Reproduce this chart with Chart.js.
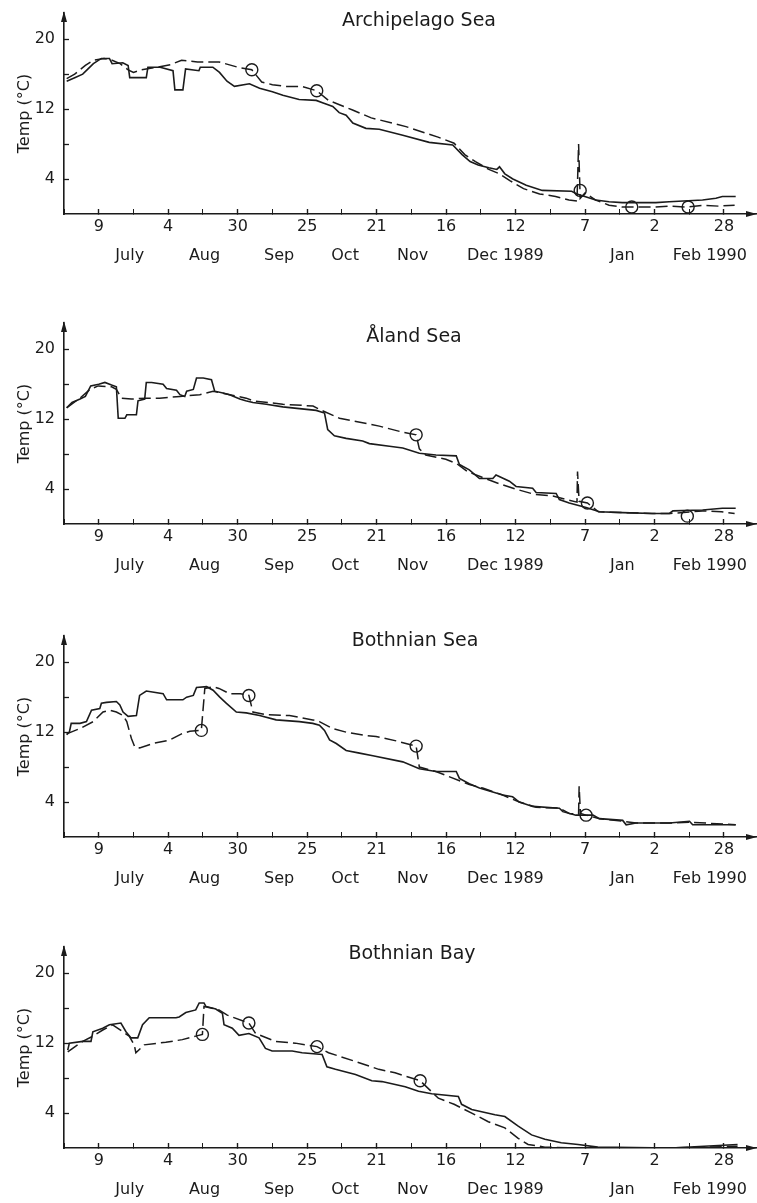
<!DOCTYPE html>
<html>
<head>
<meta charset="utf-8">
<script src="https://cdn.jsdelivr.net/npm/chart.js@4"></script>
<style>
  html, body { margin: 0; padding: 0; background: #ffffff; }
  #wrap { position: relative; width: 757px; height: 1203px; overflow: hidden; background: #ffffff; }
  canvas { position: absolute; left: 0; }
</style>
</head>
<body>
<div id="wrap">
  <canvas id="c0" width="757" height="268" style="top:0px"></canvas>
  <canvas id="c1" width="757" height="268" style="top:310px"></canvas>
  <canvas id="c2" width="757" height="268" style="top:623px"></canvas>
  <canvas id="c3" width="757" height="268" style="top:934px"></canvas>
</div>
<script>
// ---------------- DATA ----------------
// x = days after 9 July 1989, y = temperature (°C)
const panelTitles = ['Archipelago Sea', 'Åland Sea', 'Bothnian Sea', 'Bothnian Bay'];

const majorTickDays = [0, 26, 52, 78, 104, 130, 156, 182, 208, 234];
const tickLabels = ['9', '4', '30', '25', '21', '16', '12', '7', '2', '28'];
const monthDays = [11.6, 39.6, 67.5, 92.2, 117.5, 152.2, 196, 228.7];
const monthLabels = ['July', 'Aug', 'Sep', 'Oct', 'Nov', 'Dec 1989', 'Jan', 'Feb 1990'];
const yTickValues = [4, 8, 12, 16, 20];
const yTickLabels = ['4', '', '12', '', '20'];

const archSolid = [[-12,15.2],[-9,15.6],[-6,16.0],[-4,16.6],[-2,17.2],[1,17.8],[4,17.8],[5,17.2],[9,17.3],[11,17.0],[11.6,15.6],[17.8,15.6],[18.4,16.8],[23,16.8],[27.8,16.4],[28.5,14.2],[31.5,14.2],[32.5,16.6],[37.5,16.4],[38,16.8],[42.7,16.8],[45.2,16.2],[48,15.2],[50.8,14.6],[56.4,14.9],[60.2,14.4],[65,14.0],[68.9,13.6],[75,13.1],[81.4,13.0],[84,12.7],[87.6,12.3],[90,11.6],[92.6,11.3],[95.1,10.4],[100,9.8],[105,9.7],[113.8,9.0],[123.7,8.2],[132.5,7.9],[136,6.8],[139,6.0],[142,5.6],[146,5.3],[149,5.1],[150,5.4],[152,4.6],[155,4.0],[160,3.3],[166,2.7],[177,2.6],[179,2.3],[186,1.6],[191,1.4],[196,1.3],[208.5,1.3],[213.5,1.4],[226,1.6],[231,1.8],[233.4,2.0],[238.4,2.0]];
const archDashed = [[-12,15.5],[-9,16.0],[-5,17.0],[-2,17.6],[2,17.8],[5,17.6],[8,17.2],[11,16.5],[13,16.2],[16,16.5],[22,16.8],[27,17.1],[31,17.6],[37,17.4],[45,17.4],[52,16.8],[57.3,16.5],[61,15.1],[65,14.8],[70,14.6],[76,14.6],[81.6,14.1],[86,13.0],[95,11.9],[102,11.0],[115,10.0],[127,8.8],[133,8.1],[137,6.8],[141,6.0],[146,5.1],[150,4.6],[154,3.8],[159,2.9],[165,2.3],[171,2.0],[176,1.6],[179,1.5],[179.6,8.0],[180.2,1.8],[182,2.4],[186,1.6],[191,1.0],[196,0.8],[208,0.8],[214,0.9],[220,0.8],[226,1.0],[232,0.9],[238,1.0]];
const archObs = [[57.3,16.5],[81.6,14.1],[180.2,2.7],[199.5,0.8],[220.6,0.8]];

const alandSolid = [[-12,13.3],[-10,13.9],[-7,14.3],[-5,14.6],[-3,15.8],[0,16.0],[2.3,16.2],[4.8,15.9],[6.6,15.7],[7.3,12.1],[9.8,12.1],[10.5,12.5],[14.1,12.5],[14.7,14.1],[17.2,14.3],[17.8,16.2],[19.8,16.2],[24.1,16.0],[25.4,15.5],[29.1,15.3],[30.4,14.8],[32.2,14.6],[32.9,15.2],[35.4,15.4],[36.6,16.7],[39.1,16.7],[42.2,16.5],[43.4,15.2],[46.5,15.0],[49,14.8],[52.8,14.3],[55,14.1],[57.7,13.9],[62.7,13.7],[68.9,13.4],[75.1,13.2],[81.4,13.0],[84.5,12.7],[85.7,10.8],[88.2,10.1],[92.6,9.8],[98.8,9.5],[101.3,9.2],[108.8,8.9],[113.8,8.7],[120,8.1],[126.2,7.9],[133.8,7.8],[135,6.8],[138.7,6.2],[142.5,5.2],[147.5,5.2],[148.7,5.6],[153.7,4.9],[156.2,4.3],[162.4,4.1],[163.7,3.6],[171.2,3.5],[172.4,2.8],[176.1,2.4],[182.4,1.9],[187.4,1.4],[196.1,1.3],[207.4,1.2],[213.6,1.2],[214.9,1.5],[226,1.6],[233.4,1.8],[238.4,1.8]];
const alandDashed = [[-12,13.3],[-7,14.4],[-3.3,15.4],[-0.2,15.8],[4.8,15.7],[6.6,15.4],[8.5,14.4],[12.2,14.3],[17.8,14.4],[22.8,14.4],[30.4,14.6],[37.8,14.8],[42.8,15.2],[49,14.8],[55.2,14.4],[57.7,14.1],[68.9,13.7],[80.2,13.5],[82.7,13.1],[90.1,12.1],[95.1,11.8],[102,11.4],[105,11.2],[113.8,10.5],[118.8,10.2],[120,8.6],[122.4,7.9],[129.9,7.4],[134,6.9],[138,6.0],[143,5.4],[150,4.6],[156,4.0],[163,3.4],[170,3.2],[175,2.8],[179,2.5],[179.2,6.0],[179.8,2.6],[182.9,2.4],[187,1.4],[196,1.3],[207,1.2],[214,1.2],[226,1.5],[233,1.4],[238,1.2]];
const alandObs = [[118.8,10.2],[182.9,2.4],[220.3,0.9]];

const bothSeaSolid = [[-12,11.7],[-11,12.0],[-10.3,13.0],[-7,13.0],[-4.6,13.2],[-2.7,14.5],[0.4,14.7],[1,15.3],[2.9,15.4],[6.6,15.5],[7.9,15.1],[9.1,14.3],[11,13.8],[14.1,13.9],[15.3,16.2],[17.8,16.7],[24.1,16.4],[25.4,15.7],[31.5,15.7],[32.9,16.0],[35.4,16.2],[36.6,17.1],[40.4,17.2],[42.8,16.8],[45.3,16.0],[47.8,15.3],[51.5,14.3],[55.2,14.2],[60.2,13.9],[66.4,13.4],[75.1,13.2],[80.1,13.0],[82.6,12.8],[84.5,12.2],[86.4,11.1],[88.9,10.7],[92.6,9.9],[97.6,9.6],[102.6,9.3],[113.8,8.6],[120,7.8],[126.2,7.5],[133.8,7.5],[135,6.7],[138.7,6.1],[142.5,5.6],[151.2,4.8],[154.9,4.6],[157.4,4.0],[162.4,3.5],[172.4,3.3],[173.7,2.9],[178.6,2.5],[185,2.5],[187.4,2.1],[196.1,1.9],[197.4,1.4],[201.1,1.6],[213.6,1.6],[221.1,1.8],[222.3,1.4],[238.4,1.4]];
const bothSeaDashed = [[-12,11.8],[-7.1,12.4],[-2.1,13.2],[1.6,14.3],[4.1,14.5],[6.6,14.3],[9.1,13.9],[10.5,13.2],[12.2,11.3],[13.5,10.3],[15.3,10.2],[20.3,10.7],[26.6,11.1],[31,11.8],[34.1,12.1],[38.4,12.2],[39.7,17.0],[42.8,17.2],[45,17.0],[49,16.4],[53,16.4],[56.2,16.2],[57.7,14.3],[62.7,14.0],[71.4,13.9],[80.1,13.4],[82.6,13.2],[87.6,12.4],[92.6,12.0],[100.1,11.6],[103.8,11.5],[111.3,11.0],[118.8,10.4],[120,8.0],[126.2,7.5],[138.7,6.0],[143.7,5.6],[151.2,4.8],[157.4,4.0],[163.7,3.4],[172.4,3.3],[176.1,2.7],[179.6,2.6],[179.8,5.8],[180.3,2.7],[182.4,2.5],[187.4,2.1],[196.1,1.8],[201.1,1.6],[213.6,1.6],[221,1.7],[238.4,1.4]];
const bothSeaObs = [[38.4,12.2],[56.2,16.2],[118.8,10.4],[182.4,2.5]];

const bothBaySolid = [[-11.6,11.2],[-11,12.0],[-6,12.2],[-2.9,12.2],[-2.2,13.3],[1.5,13.7],[4,14.1],[8.3,14.3],[10.2,13.3],[12.1,12.6],[14.6,12.6],[16.4,14.1],[18.9,14.9],[28.9,14.9],[30.1,15.0],[32.6,15.5],[36.3,15.8],[37.6,16.6],[39.4,16.6],[40.1,16.2],[43.8,15.9],[46.3,15.4],[46.9,14.1],[50,13.7],[52.5,12.9],[56.2,13.1],[60,12.6],[62.4,11.4],[64.9,11.1],[72.4,11.1],[76.1,10.9],[83.6,10.7],[85.4,9.3],[88.6,9.0],[96.1,8.4],[102.2,7.7],[106,7.6],[114.7,7.0],[119.7,6.5],[124.6,6.2],[134.6,5.9],[135.8,5.0],[139.6,4.4],[148.3,3.8],[152,3.6],[157,2.5],[162,1.5],[167,1.0],[173.1,0.6],[179.4,0.4],[186.8,0.1],[214.2,0.0],[226.6,0.2],[239.1,0.4]];
const bothBayDashed = [[-11.6,11.0],[-6,12.2],[-2.2,12.8],[1.5,13.5],[5.2,14.1],[9,13.3],[11.4,12.8],[13.3,11.8],[13.9,10.9],[17,11.8],[25.1,12.1],[31.3,12.4],[36.3,12.8],[38.8,13.0],[39.4,16.2],[45,15.8],[48.1,15.2],[56.2,14.3],[58.7,13.1],[66.2,12.2],[73.6,12.0],[81.7,11.6],[86,10.9],[96.1,9.9],[104.8,9.0],[110.9,8.6],[120.3,7.7],[127.1,5.7],[133,5.0],[139.6,4.0],[145.8,3.0],[152,2.3],[157,1.1],[160.7,0.4],[167,0.1],[180,0.0],[214,0.0],[226.6,0.1],[239.1,0.2]];
const bothBayObs = [[38.8,13.0],[56.2,14.3],[81.7,11.6],[120.3,7.7]];

const solidSeries = [archSolid, alandSolid, bothSeaSolid, bothBaySolid];
const dashedSeries = [archDashed, alandDashed, bothSeaDashed, bothBayDashed];
const obsSeries = [archObs, alandObs, bothSeaObs, bothBayObs];

// ---------------- STYLE / LAYOUT ----------------
const INK = '#1b1b1b';
const FONT = "'DejaVu Sans', 'Liberation Sans', sans-serif";
const titlePos = [{x: 419, y: 21.5}, {x: 414, y: 27}, {x: 415, y: 18}, {x: 412, y: 20}];
const X_MIN = -13, X_MAX = 246, Y_MIN = 0, Y_MAX = 23;

Chart.defaults.font.family = FONT;
Chart.defaults.color = INK;

const toXY = arr => arr.map(([x, y]) => ({x, y}));
const noPad = s => { s.paddingLeft = 0; s.paddingRight = 0; s.paddingTop = 0; s.paddingBottom = 0; };

const panelDeco = {
  id: 'panelDeco',
  afterDraw(chart, args, opts) {
    const ctx = chart.ctx;
    const a = chart.chartArea;
    ctx.save();
    ctx.fillStyle = INK;
    // arrow heads on the axes
    ctx.beginPath();
    ctx.moveTo(a.left, a.top - 2);
    ctx.lineTo(a.left - 3, a.top + 9);
    ctx.lineTo(a.left + 3, a.top + 9);
    ctx.closePath();
    ctx.fill();
    ctx.beginPath();
    ctx.moveTo(a.right + 1, a.bottom);
    ctx.lineTo(a.right - 10, a.bottom - 3);
    ctx.lineTo(a.right - 10, a.bottom + 3);
    ctx.closePath();
    ctx.fill();
    // panel title
    ctx.font = '19px ' + FONT;
    ctx.textAlign = 'center';
    ctx.textBaseline = 'middle';
    ctx.fillText(opts.text, opts.x, opts.y);
    ctx.restore();
  }
};

function makeChart(i) {
  const el = document.getElementById('c' + i);
  return new Chart(el, {
    type: 'line',
    data: {
      datasets: [
        { data: toXY(solidSeries[i]), borderColor: INK, borderWidth: 1.6, pointRadius: 0, tension: 0, fill: false },
        { data: toXY(dashedSeries[i]), borderColor: INK, borderWidth: 1.5, borderDash: [12, 5], pointRadius: 0, tension: 0, fill: false },
        { data: toXY(obsSeries[i]), showLine: false, pointRadius: 6, pointStyle: 'circle',
          pointBorderColor: INK, pointBackgroundColor: 'rgba(0,0,0,0)', pointBorderWidth: 1.4 }
      ]
    },
    options: {
      responsive: false,
      animation: false,
      events: [],
      layout: { autoPadding: false, padding: { top: 13, right: 1, left: 0, bottom: 0 } },
      plugins: {
        legend: { display: false },
        tooltip: { enabled: false },
        title: { display: false },
        panelDeco: { text: panelTitles[i], x: titlePos[i].x, y: titlePos[i].y }
      },
      scales: {
        x: {
          type: 'linear', position: 'bottom', min: X_MIN, max: X_MAX, weight: 0,
          afterBuildTicks: s => {
            const t = [];
            for (let d = X_MIN; d <= 240; d += 13) t.push({ value: d });
            s.ticks = t;
          },
          afterFit: s => { s.height = 24; noPad(s); },
          grid: { drawOnChartArea: false, drawTicks: true, tickLength: -5, tickColor: INK,
                  tickWidth: c => (majorTickDays.includes(c.tick && c.tick.value) ? 1.4 : 1) },
          border: { display: true, color: INK, width: 1.6 },
          ticks: {
            autoSkip: false, maxRotation: 0, minRotation: 0, padding: 8, color: INK,
            font: { size: 16, family: FONT },
            callback: v => { const k = majorTickDays.indexOf(v); return k >= 0 ? tickLabels[k] : ''; }
          }
        },
        xMonth: {
          type: 'linear', position: 'bottom', min: X_MIN, max: X_MAX, weight: 1,
          afterBuildTicks: s => { s.ticks = monthDays.map(v => ({ value: v })); },
          afterFit: s => { s.height = 30; noPad(s); },
          grid: { display: false, drawTicks: false },
          border: { display: false },
          ticks: {
            autoSkip: false, maxRotation: 0, minRotation: 0, padding: 8, color: INK,
            font: { size: 16, family: FONT },
            callback: (v, k) => monthLabels[k]
          }
        },
        y: {
          type: 'linear', position: 'left', min: Y_MIN, max: Y_MAX,
          afterBuildTicks: s => { s.ticks = yTickValues.map(v => ({ value: v })); },
          afterFit: s => { s.width = 64; noPad(s); },
          grid: { drawOnChartArea: false, drawTicks: true, tickLength: -5, tickColor: INK, tickWidth: 1.3 },
          border: { display: true, color: INK, width: 1.6 },
          ticks: {
            autoSkip: false, padding: 14, color: INK,
            font: { size: 16, family: FONT },
            callback: (v, k) => yTickLabels[k]
          },
          title: {
            display: true, text: 'Temp (°C)', color: INK,
            font: { size: 16, family: FONT },
            padding: { top: 15, bottom: 0 }
          }
        }
      }
    },
    plugins: [panelDeco]
  });
}

for (let i = 0; i < 4; i++) makeChart(i);
</script>
</body>
</html>
